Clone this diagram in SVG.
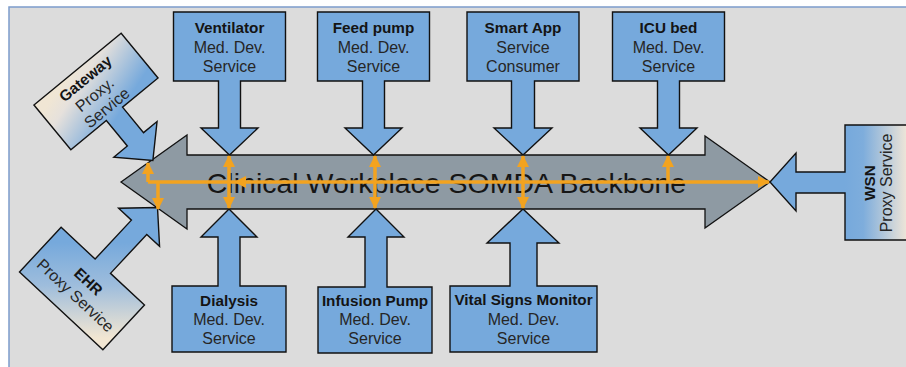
<svg xmlns="http://www.w3.org/2000/svg" width="906" height="367" viewBox="0 0 906 367">
<defs>
<style>
.blk{fill:#76a9dc;stroke:#111;stroke-width:1.4;stroke-linejoin:miter}
.b{font-family:"Liberation Sans",Arial,sans-serif;font-weight:bold;font-size:15.3px;fill:#141414;text-anchor:middle}
.r{font-family:"Liberation Sans",Arial,sans-serif;font-size:16px;fill:#262626;text-anchor:middle}
.or{fill:none;stroke:#f3a31f;stroke-width:3.5}
.oh{fill:#f3a31f}
</style>
<marker id="ah" viewBox="0 0 12 12" refX="11" refY="6" markerWidth="12" markerHeight="12" markerUnits="userSpaceOnUse" orient="auto-start-reverse">
<path d="M0,0 L12,6 L0,12 Z" class="oh"/>
</marker>
<linearGradient id="gGw" gradientUnits="userSpaceOnUse" x1="-10" y1="-32" x2="10" y2="30">
<stop offset="0" stop-color="#f0e6d4"/><stop offset="0.25" stop-color="#e6e1dc"/><stop offset="1" stop-color="#76a9dc"/>
</linearGradient>
<linearGradient id="gEhr" gradientUnits="userSpaceOnUse" x1="-30" y1="-35" x2="35" y2="35">
<stop offset="0" stop-color="#76a9dc"/><stop offset="0.45" stop-color="#9ebddc"/><stop offset="1" stop-color="#f2e6d2"/>
</linearGradient>
<linearGradient id="gWsn" gradientUnits="userSpaceOnUse" x1="845" y1="0" x2="906" y2="0">
<stop offset="0" stop-color="#76a9dc"/><stop offset="0.3" stop-color="#7eaddc"/><stop offset="1" stop-color="#ece4d8"/>
</linearGradient>
</defs>
<rect x="0" y="0" width="906" height="367" fill="#ffffff"/>
<rect x="9" y="7" width="905" height="370" fill="#dcdcdc" stroke="#7c9ccb" stroke-width="1.5"/>

<g id="backbone">
<path d="M121,182 L187,135 V155 H705 V136 L770,182 L705,228 V209 H187 V229 Z" fill="#8e9aa3" stroke="#111" stroke-width="1.3"/>
<text x="446.5" y="193" font-family="'Liberation Sans',Arial,sans-serif" font-size="28.5" fill="#161616" text-anchor="middle">Clinical Workplace SOMDA Backbone</text>
</g>

<g id="ventilator">
<path class="blk" d="M173.5,12 H285.5 V81 H240.5 V128 H258 L229.5,155 L201,128 H218.5 V81 H173.5 Z"/>
<text class="b" x="229.5" y="33">Ventilator</text>
<text class="r" x="229.5" y="52.5">Med. Dev.</text>
<text class="r" x="229.5" y="72">Service</text>
</g>
<g id="feedpump">
<path class="blk" d="M317.5,12 H429.5 V81 H384.5 V128 H402 L373.5,155 L345,128 H362.5 V81 H317.5 Z"/>
<text class="b" x="373.5" y="33">Feed pump</text>
<text class="r" x="373.5" y="52.5">Med. Dev.</text>
<text class="r" x="373.5" y="72">Service</text>
</g>
<g id="smartapp">
<path class="blk" d="M467,12 H579 V81 H534.5 V128 H552 L523,155 L494,128 H511.5 V81 H467 Z"/>
<text class="b" x="523" y="33">Smart App</text>
<text class="r" x="523" y="52.5">Service</text>
<text class="r" x="523" y="72">Consumer</text>
</g>
<g id="icubed">
<path class="blk" d="M612.5,12 H724.5 V81 H679.5 V128 H697 L668.5,155 L640,128 H657.5 V81 H612.5 Z"/>
<text class="b" x="668.5" y="33">ICU bed</text>
<text class="r" x="668.5" y="52.5">Med. Dev.</text>
<text class="r" x="668.5" y="72">Service</text>
</g>

<g id="dialysis">
<path class="blk" d="M172,352 H286 V286 H240 V237 H257 L229,209 L201,237 H218 V286 H172 Z"/>
<text class="b" x="229" y="306">Dialysis</text>
<text class="r" x="229" y="325">Med. Dev.</text>
<text class="r" x="229" y="344">Service</text>
</g>
<g id="infusionpump">
<path class="blk" d="M318,353 H432 V287 H387 V237 H404 L376,209 L348,237 H365 V287 H318 Z"/>
<text class="b" x="375" y="306">Infusion Pump</text>
<text class="r" x="375" y="325">Med. Dev.</text>
<text class="r" x="375" y="344">Service</text>
</g>
<g id="vitalsigns">
<path class="blk" d="M450,352 H597 V286 H537 V243 H559 L523,209 L487,243 H510 V286 H450 Z"/>
<text class="b" x="523.5" y="305">Vital Signs Monitor</text>
<text class="r" x="523.5" y="325">Med. Dev.</text>
<text class="r" x="523.5" y="344">Service</text>
</g>

<g id="gateway" transform="translate(96,91.5) rotate(-39.5)">
<path d="M-56.5,-29 H56.5 V29 H10.5 V62 H28 L0,89.4 L-28,62 H-10.5 V29 H-56.5 Z" fill="url(#gGw)" stroke="#111" stroke-width="1.4"/>
<text class="b" x="0" y="-11.5">Gateway</text>
<text class="r" x="-3" y="7">Proxy.</text>
<text class="r" x="-2" y="25">Service</text>
</g>

<g id="ehr" transform="translate(82,288.5) rotate(43)">
<path d="M-57,30.5 H57 V-30.5 H10.5 V-83.7 H28 L0,-110.7 L-28,-83.7 H-10.5 V-30.5 H-57 Z" fill="url(#gEhr)" stroke="#111" stroke-width="1.4"/>
<text class="b" x="0" y="-4">EHR</text>
<text class="r" x="0" y="15">Proxy Service</text>
</g>

<g id="wsn">
<path d="M845,125 H915 V240 H845 V193 H796 V211 L770,182 L796,153 V172 H845 Z" fill="url(#gWsn)" stroke="#111" stroke-width="1.4"/>
<text class="b" transform="translate(875,183) rotate(-90)">WSN</text>
<text class="r" transform="translate(892,183) rotate(-90)">Proxy Service</text>
</g>

<g id="connectors">
<path class="or" d="M148,182 H769" marker-end="url(#ah)"/>
<polygon class="oh" points="234,182 246,176 246,188"/>
<path class="or" d="M148,182 V163" marker-end="url(#ah)"/>
<path class="or" d="M158,182 V209" marker-end="url(#ah)"/>
<path class="or" d="M229,156 V208" marker-start="url(#ah)" marker-end="url(#ah)"/>
<path class="or" d="M375,156 V208" marker-start="url(#ah)" marker-end="url(#ah)"/>
<path class="or" d="M523,156 V208" marker-start="url(#ah)" marker-end="url(#ah)"/>
<path class="or" d="M668,182 V156" marker-end="url(#ah)"/>
</g>
</svg>
